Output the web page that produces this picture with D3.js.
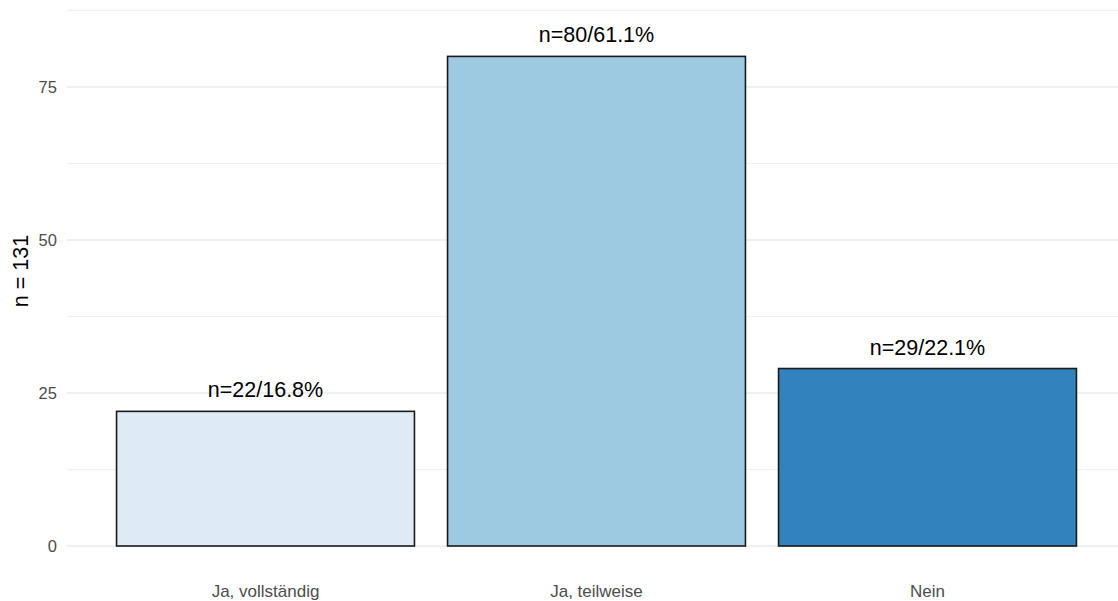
<!DOCTYPE html>
<html><head><meta charset="utf-8">
<script src="https://cdn.jsdelivr.net/npm/d3@7"></script>
<style>body{margin:0;background:#fff}svg{display:block;font-family:"Liberation Sans",Arial,sans-serif}</style>
</head><body>
<svg id="c" width="1118" height="601"></svg>
<script>
const categories = ["Ja, vollständig", "Ja, teilweise", "Nein"];
const counts = [22, 80, 29];
const labels = ["n=22/16.8%", "n=80/61.1%", "n=29/22.1%"];
const colors = ["#deebf7", "#9ecae1", "#3182bd"];
const yTicks = [0, 25, 50, 75];
const yMinor = [12.5, 37.5, 62.5, 87.5];
const yTitle = "n = 131";

const svg = d3.select("#c");
const x = d3.scaleBand().domain(categories).range([66.9, 1126.1]).paddingInner(0.1).paddingOuter(0.15);
const y = d3.scaleLinear().domain([0, 87.5]).range([546, 10.5]);
const left = 66.9, right = 1126.1;

svg.append("g").selectAll("line").data(yMinor).join("line")
  .attr("x1", left).attr("x2", right).attr("y1", d => y(d)).attr("y2", d => y(d))
  .attr("stroke", "#f0f0f0").attr("stroke-width", 1);
svg.append("g").selectAll("line").data(yTicks).join("line")
  .attr("x1", left).attr("x2", right).attr("y1", d => y(d)).attr("y2", d => y(d))
  .attr("stroke", "#ebebeb").attr("stroke-width", 1.5);

const yAxis = svg.append("g").attr("transform", `translate(${left},0)`)
  .call(d3.axisLeft(y).tickValues(yTicks).tickSize(0).tickPadding(10));
yAxis.select(".domain").remove();
yAxis.selectAll("text").attr("fill", "#4d4d4d").style("font-size", "16.5px").style("font-family", "Liberation Sans, Arial, sans-serif");

const xAxis = svg.append("g").attr("transform", `translate(0,546)`)
  .call(d3.axisBottom(x).tickSize(0).tickPadding(39));
xAxis.select(".domain").remove();
xAxis.selectAll("text").attr("fill", "#4d4d4d").style("font-size", "17px").style("font-family", "Liberation Sans, Arial, sans-serif");

svg.append("g").selectAll("rect").data(categories).join("rect")
  .attr("x", d => x(d)).attr("width", x.bandwidth())
  .attr("y", (d, i) => y(counts[i])).attr("height", (d, i) => y(0) - y(counts[i]))
  .attr("fill", (d, i) => colors[i]).attr("stroke", "#1a1a1a").attr("stroke-width", 1.6);

svg.append("g").selectAll("text").data(categories).join("text")
  .attr("x", d => x(d) + x.bandwidth() / 2).attr("y", (d, i) => y(counts[i]) - 14)
  .attr("text-anchor", "middle").attr("fill", "#000").style("font-size", "21.5px")
  .text((d, i) => labels[i]);

svg.append("text").attr("transform", "translate(28,271) rotate(-90)")
  .attr("text-anchor", "middle").attr("fill", "#000").style("font-size", "21.5px").text(yTitle);
</script>
</body></html>
